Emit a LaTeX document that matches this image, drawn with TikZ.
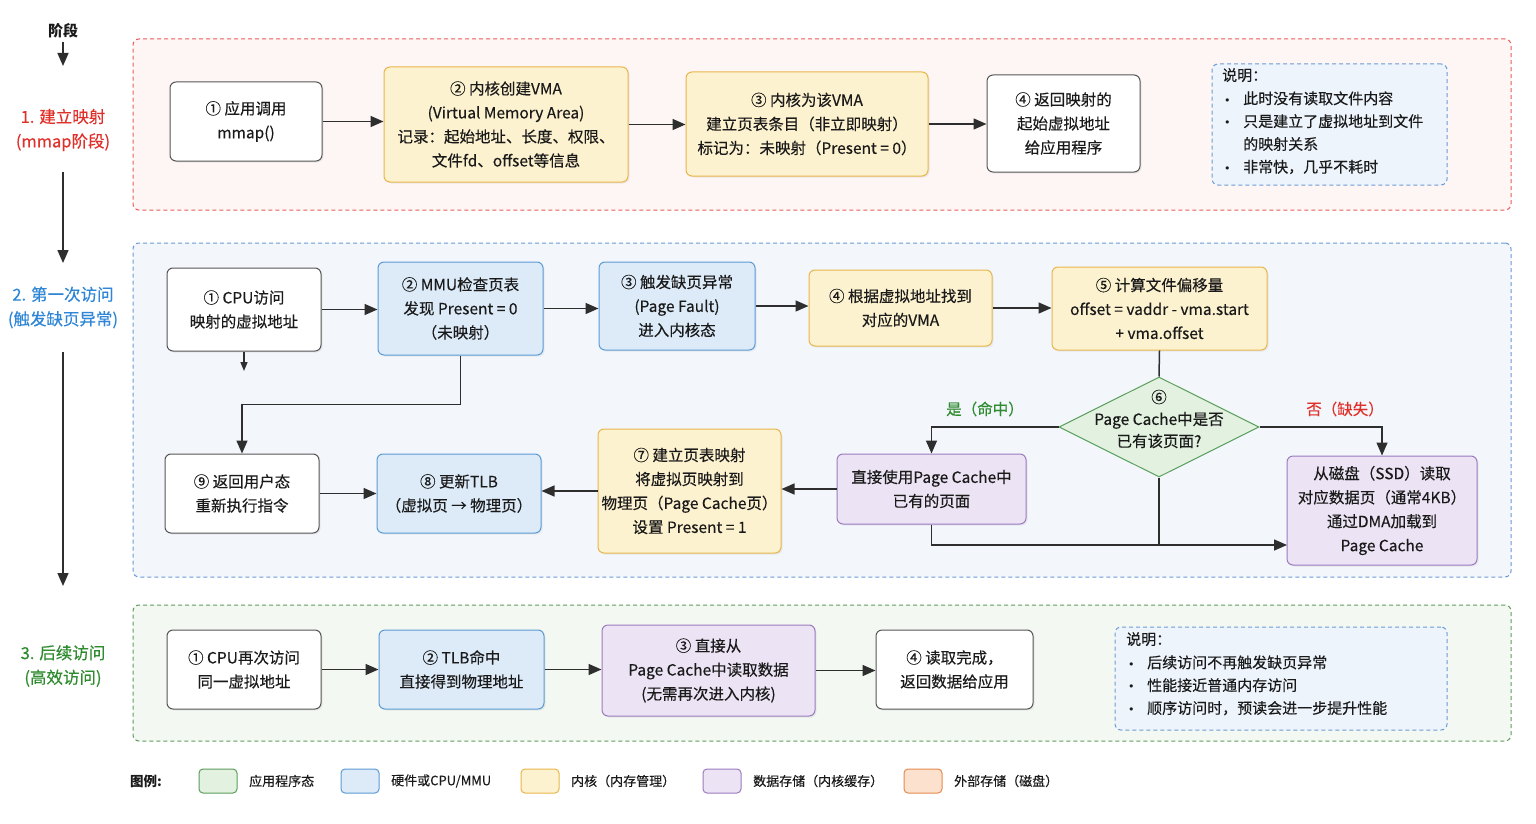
\documentclass[tikz,border=0pt]{standalone}
\usepackage{fontspec}
\setmainfont{Noto Sans CJK SC}[UprightFeatures={FakeBold=0.3}]
\newfontfamily\bulfont{DejaVu Sans}
\newcommand{\mybul}{\makebox[21pt][l]{\hspace{2pt}{\bulfont\fontsize{11}{11}\selectfont •}}}
\usetikzlibrary{arrows.meta,shapes.geometric,shadows}
\definecolor{txt}{HTML}{1A1A1A}
\definecolor{arrc}{HTML}{2E2E2E}
\definecolor{secred}{HTML}{E8605C}
\definecolor{secredbg}{HTML}{FDF6F5}
\definecolor{secblue}{HTML}{6A9AD6}
\definecolor{secbluebg}{HTML}{F3F7FC}
\definecolor{secgrn}{HTML}{5E9E5E}
\definecolor{secgrnbg}{HTML}{F3F8F2}
\definecolor{whdraw}{HTML}{555555}
\definecolor{yelfill}{HTML}{FDF2CF}
\definecolor{yeldraw}{HTML}{E8B64A}
\definecolor{blufill}{HTML}{DDEBF8}
\definecolor{bludraw}{HTML}{5B9BD5}
\definecolor{purfill}{HTML}{ECE4F4}
\definecolor{purdraw}{HTML}{9B7BBF}
\definecolor{grnfill}{HTML}{E2F1E0}
\definecolor{grndraw}{HTML}{5A9E5A}
\definecolor{ornfill}{HTML}{FDE1CF}
\definecolor{orndraw}{HTML}{E38A4F}
\definecolor{notefill}{HTML}{EEF4FC}
\definecolor{notedraw}{HTML}{6B9BD6}
\definecolor{lblred}{HTML}{E0302A}
\definecolor{lblblue}{HTML}{2F86D6}
\definecolor{lblgrn}{HTML}{2E8B2E}
\begin{document}
\begin{tikzpicture}[x=1pt,y=-1pt,
  box/.style={draw, rounded corners=6pt, align=center, inner sep=2pt, line width=1pt, text=txt,
    font=\fontsize{15.5}{24}\selectfont,
    drop shadow={opacity=0.12, shadow xshift=1.5pt, shadow yshift=-1.5pt}},
  whbox/.style={box, fill=white, draw=whdraw},
  yelbox/.style={box, fill=yelfill, draw=yeldraw},
  blubox/.style={box, fill=blufill, draw=bludraw},
  purbox/.style={box, fill=purfill, draw=purdraw},
  sec/.style={rounded corners=6pt, line width=1pt, dash pattern=on 4pt off 3pt, inner sep=0pt},
  note/.style={rounded corners=6pt, line width=1pt, dash pattern=on 4pt off 3pt, fill=notefill, draw=notedraw, inner sep=0pt},
  notetxt/.style={anchor=north west, align=left, inner sep=0pt, text=txt, font=\fontsize{15}{22.8}\selectfont},
  stage/.style={align=center, font=\fontsize{16.5}{24.5}\selectfont},
  arr/.style={draw=arrc, line width=1.5pt, -{Triangle[length=13pt,width=11pt]}},
  ln/.style={draw=arrc, line width=1.5pt},
  swatch/.style={draw, rounded corners=4pt, line width=1pt, minimum width=38pt, minimum height=24pt, inner sep=0pt},
  legtxt/.style={anchor=west, text=txt, font=\fontsize{13}{16}\selectfont, inner sep=0pt}
]
\useasboundingbox (0,0) rectangle (1536,824);
\fill[white] (0,0) rectangle (1536,824);

% ---- section frames ----
\node[sec, draw=secred, fill=secredbg, minimum width=1378pt, minimum height=171pt] (s1) at (822,124.5) {};
\node[sec, draw=secblue, fill=secbluebg, minimum width=1378pt, minimum height=334pt] (s2) at (822,410) {};
\node[sec, draw=secgrn, fill=secgrnbg, minimum width=1378pt, minimum height=136pt] (s3) at (822,673) {};

% ---- stage column ----
\node[font=\bfseries\fontsize{15}{18}\selectfont, text=txt] (stg) at (63,31) {阶段};
\coordinate (stgE) at (63,66);
\draw[arr] (stg.south) -- (stgE);
\node[stage, text=lblred] (l1) at (63,130) {1. 建立映射\\(mmap阶段)};
\coordinate (l1a) at (63,172);
\coordinate (l1b) at (63,263);
\draw[arr] (l1a) -- (l1b);
\node[stage, text=lblblue] (l2) at (63,307.5) {2. 第一次访问\\(触发缺页异常)};
\coordinate (l2a) at (63,352);
\coordinate (l2b) at (63,586);
\draw[arr] (l2a) -- (l2b);
\node[stage, text=lblgrn] (l3) at (63,666) {3. 后续访问\\(高效访问)};

% ---- row 1 ----
\node[whbox, minimum width=152pt, minimum height=79pt] (n11) at (246,121.5) {① 应用调用\\mmap()};
\node[yelbox, minimum width=244pt, minimum height=115pt] (n12) at (506,124.5) {② 内核创建VMA\\(Virtual Memory Area)\\记录：起始地址、长度、权限、\\文件fd、offset等信息};
\node[yelbox, minimum width=242pt, minimum height=104pt] (n13) at (807,124) {③ 内核为该VMA\\建立页表条目（非立即映射）\\标记为：未映射（Present = 0）};
\node[whbox, minimum width=153pt, minimum height=97pt] (n14) at (1063.5,123.5) {④ 返回映射的\\起始虚拟地址\\给应用程序};
\node[note, minimum width=235pt, minimum height=121pt] (note1) at (1329.5,124.5) {};
\node[notetxt] (note1t) at (1222,68) {说明：\\[0.5pt]
\mybul 此时没有读取文件内容\\
\mybul 只是建立了虚拟地址到文件\\
\hspace{21pt}的映射关系\\
\mybul 非常快，几乎不耗时};
\draw[arr] (n11.east) -- (n11.east -| n12.west);
\draw[arr] (n12.east) -- (n12.east -| n13.west);
\draw[arr] (n13.east) -- (n13.east -| n14.west);

% ---- row 2 ----
\node[whbox, minimum width=154pt, minimum height=83pt] (a1) at (244,309.5) {① CPU访问\\映射的虚拟地址};
\node[blubox, minimum width=165pt, minimum height=93pt] (a2) at (460.5,308.5) {② MMU检查页表\\发现 Present = 0\\（未映射）};
\node[blubox, minimum width=156pt, minimum height=88pt] (a3) at (677,306) {③ 触发缺页异常\\(Page Fault)\\进入内核态};
\node[yelbox, minimum width=183pt, minimum height=76pt] (a4) at (900.5,308) {④ 根据虚拟地址找到\\对应的VMA};
\node[yelbox, minimum width=215pt, minimum height=83pt] (a5) at (1159.5,308.5) {⑤ 计算文件偏移量\\offset = vaddr - vma.start\\+ vma.offset};
\node[diamond, draw=grndraw, fill=grnfill, line width=1pt, minimum width=200pt, minimum height=100pt, inner sep=0pt] (d6) at (1159,427) {};
\node[align=center, text=txt, font=\fontsize{15.5}{22}\selectfont, inner sep=0pt] (d6t) at (1159,419) {⑥\\Page Cache中是否\\已有该页面?};
\node[purbox, minimum width=189pt, minimum height=70pt] (hit) at (931.5,489) {直接使用Page Cache中\\已有的页面};
\node[purbox, minimum width=190pt, minimum height=109pt] (miss) at (1382,510.5) {从磁盘（SSD）读取\\对应数据页（通常4KB）\\通过DMA加载到\\Page Cache};
\node[yelbox, minimum width=183pt, minimum height=124pt] (a7) at (689.5,491) {⑦ 建立页表映射\\将虚拟页映射到\\物理页（Page Cache页）\\设置 Present = 1};
\node[blubox, minimum width=164pt, minimum height=79pt] (a8) at (459,493.5) {⑧ 更新TLB\\（虚拟页 → 物理页）};
\node[whbox, minimum width=154pt, minimum height=79pt] (a9) at (242,493.5) {⑨ 返回用户态\\重新执行指令};
\node[text=lblgrn, font=\fontsize{15.5}{18}\selectfont] (yes) at (985,409) {是（命中）};
\node[text=lblred, font=\fontsize{15.5}{18}\selectfont] (no) at (1345,409) {否（缺失）};

\draw[arr] (a1.east) -- (a1.east -| a2.west);
\draw[arr] (a2.east) -- (a2.east -| a3.west);
\draw[arr] (a3.east) -- (a3.east -| a4.west);
\draw[arr] (a4.east) -- (a4.east -| a5.west);
\draw[ln] (a5.south) -- (d6.north);
\draw[arr] (d6.west) -| (hit.north);
\draw[arr] (d6.east) -| (miss.north);
\coordinate (mj) at (1287,545);
\draw[arr] (hit.south) |- (mj);
\draw[ln] (d6.south) -- (d6.south |- mj);
\draw[arr] (hit.west) -- (hit.west -| a7.east);
\draw[arr] (a7.west) -- (a7.west -| a8.east);
\draw[arr] (a9.east) -- (a9.east -| a8.west);
\draw[arr] (a2.south) -- ++(0,49) -| (a9.north);
\coordinate (a1s) at (244,371);
\draw[draw=arrc, line width=1.5pt, -{Triangle[length=9pt,width=7pt]}] (a1.south) -- (a1s);

% ---- row 3 ----
\node[whbox, minimum width=154pt, minimum height=79pt] (b1) at (244,669.5) {① CPU再次访问\\同一虚拟地址};
\node[blubox, minimum width=165pt, minimum height=79pt] (b2) at (461.5,669.5) {② TLB命中\\直接得到物理地址};
\node[purbox, minimum width=213pt, minimum height=91pt] (b3) at (708.5,670.5) {③ 直接从\\Page Cache中读取数据\\(无需再次进入内核)};
\node[whbox, minimum width=157pt, minimum height=79pt] (b4) at (954.5,669.5) {④ 读取完成，\\返回数据给应用};
\node[note, minimum width=332pt, minimum height=103pt] (note3) at (1281,678.5) {};
\node[notetxt] (note3t) at (1126,632) {说明：\\[0.5pt]
\mybul 后续访问不再触发缺页异常\\
\mybul 性能接近普通内存访问\\
\mybul 顺序访问时，预读会进一步提升性能};
\draw[arr] (b1.east) -- (b1.east -| b2.west);
\draw[arr] (b2.east) -- (b2.east -| b3.west);
\draw[arr] (b3.east) -- (b3.east -| b4.west);

% ---- legend ----
\node[anchor=west, text=txt, font=\bfseries\fontsize{13.5}{16}\selectfont, inner sep=0pt] (lg) at (130,781) {图例:};
\node[swatch, fill=grnfill, draw=grndraw] (sw1) at (218,781) {};
\node[legtxt] (lt1) at (249,781) {应用程序态};
\node[swatch, fill=blufill, draw=bludraw] (sw2) at (360,781) {};
\node[legtxt] (lt2) at (391,781) {硬件或CPU/MMU};
\node[swatch, fill=yelfill, draw=yeldraw] (sw3) at (540,781) {};
\node[legtxt] (lt3) at (571,781) {内核（内存管理）};
\node[swatch, fill=purfill, draw=purdraw] (sw4) at (722,781) {};
\node[legtxt] (lt4) at (753,781) {数据存储（内核缓存）};
\node[swatch, fill=ornfill, draw=orndraw] (sw5) at (923,781) {};
\node[legtxt] (lt5) at (954,781) {外部存储（磁盘）};
\end{tikzpicture}
\end{document}
